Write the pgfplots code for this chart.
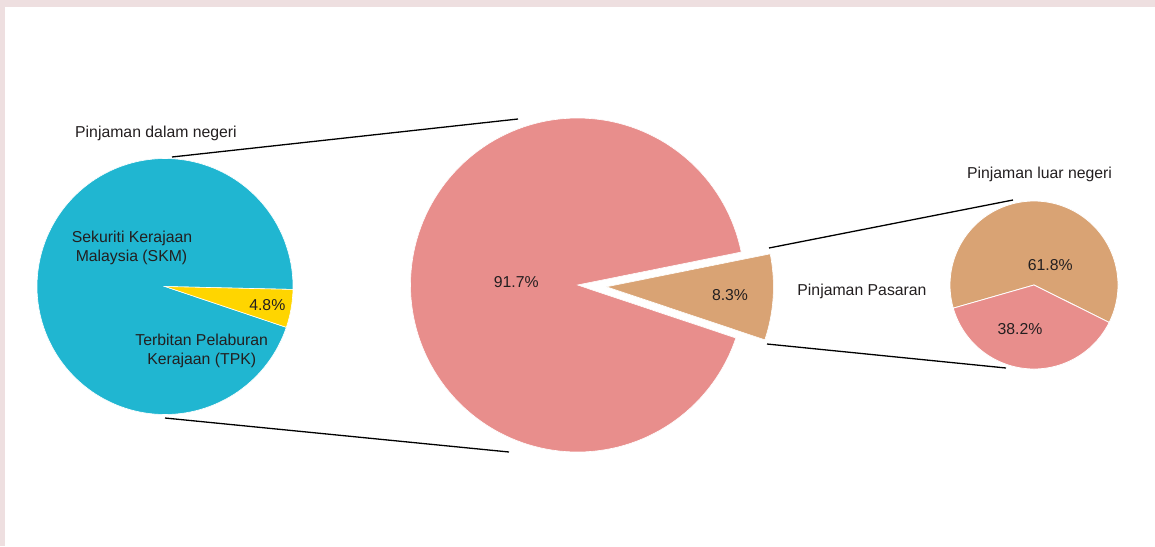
\documentclass[border=0pt]{standalone}
\usepackage{pgfplots}
\pgfplotsset{compat=1.18}
\usepackage{pgfplotstable}
\usepackage{fontspec}
\setmainfont{Liberation Sans}
\definecolor{cyanC}{HTML}{20B6D1}
\definecolor{yellowC}{HTML}{FFD500}
\definecolor{pinkC}{HTML}{E88E8C}
\definecolor{tanC}{HTML}{D9A374}
\definecolor{frameC}{HTML}{EEDFE0}
\definecolor{textC}{HTML}{231F20}

% shares of each pie, in per cent
\pgfplotstableread{
part value
SKM 95.2
TPK 4.8
}\dalamtable
\pgfplotstableread{
part value
Dalam 91.7
Luar 8.3
}\totaltable
\pgfplotstableread{
part value
Pasaran 38.2
Lain 61.8
}\luartable

\begin{document}
\begin{tikzpicture}
\pgfplotstablegetelem{1}{value}\of\dalamtable \let\vTPK\pgfplotsretval
\pgfplotstablegetelem{1}{value}\of\totaltable \let\vLuar\pgfplotsretval
\pgfplotstablegetelem{0}{value}\of\luartable \let\vPas\pgfplotsretval
% left pie
\pgfmathsetmacro{\aTPKs}{-18.6}
\pgfmathsetmacro{\aTPKe}{\aTPKs+3.6*\vTPK}
\pgfmathsetmacro{\aSKMe}{\aTPKs+360}
% middle pie
\pgfmathsetmacro{\aLuarS}{-18.5}
\pgfmathsetmacro{\aLuarE}{\aLuarS+3.6*\vLuar}
\pgfmathsetmacro{\aDalamE}{\aLuarS+360}
\pgfmathsetmacro{\aMid}{(\aLuarS+\aLuarE)/2}
\pgfmathsetmacro{\cxT}{577.5+29*cos(\aMid)}
\pgfmathsetmacro{\cyT}{285-29*sin(\aMid)}
% right pie
\pgfmathsetmacro{\aPasS}{196}
\pgfmathsetmacro{\aPasE}{\aPasS+3.6*\vPas}
\pgfmathsetmacro{\aLainE}{\aPasS+360}
\begin{axis}[
  width=1155bp, height=546bp, scale only axis,
  xmin=0, xmax=1155, ymin=0, ymax=546, y dir=reverse,
  hide axis, clip=false,
  every axis plot/.append style={variable=\t, samples=150},
]
% frame
\addplot[fill=frameC, draw=none] coordinates {(0,0) (1155,0) (1155,546) (0,546)} -- cycle;
\addplot[fill=white, draw=none] coordinates {(5,7.5) (1155,7.5) (1155,546) (5,546)} -- cycle;

% left pie
\addplot[fill=cyanC, draw=white, line width=0.6bp, domain=\aTPKe:\aSKMe]
  ({165+128*cos(\t)}, {286.5-128*sin(\t)}) -- (axis cs:165,286.5) -- cycle;
\addplot[fill=yellowC, draw=white, line width=0.6bp, domain=\aTPKs:\aTPKe]
  ({165+128*cos(\t)}, {286.5-128*sin(\t)}) -- (axis cs:165,286.5) -- cycle;

% middle pie
\addplot[fill=pinkC, draw=white, line width=0.6bp, domain=\aLuarE:\aDalamE]
  ({577.5+167*cos(\t)}, {285-167*sin(\t)}) -- (axis cs:577.5,285) -- cycle;
\addplot[fill=tanC, draw=white, line width=0.6bp, domain=\aLuarS:\aLuarE]
  ({\cxT+167*cos(\t)}, {\cyT-167*sin(\t)}) -- (axis cs:\cxT,\cyT) -- cycle;

% right pie
\addplot[fill=tanC, draw=white, line width=0.8bp, domain=\aPasE:\aLainE]
  ({1034+84*cos(\t)}, {285-84*sin(\t)}) -- (axis cs:1034,285) -- cycle;
\addplot[fill=pinkC, draw=white, line width=0.8bp, domain=\aPasS:\aPasE]
  ({1034+84*cos(\t)}, {285-84*sin(\t)}) -- (axis cs:1034,285) -- cycle;

% connector lines
\addplot[black, line width=1.3bp] coordinates {(172,157) (518,119)};
\addplot[black, line width=1.3bp] coordinates {(165,418) (509,452)};
\addplot[black, line width=1.3bp] coordinates {(769,248) (1013,200)};
\addplot[black, line width=1.3bp] coordinates {(767,344) (1006,368)};

% labels
\tikzset{lbl/.style={anchor=base, text=textC, inner sep=0pt,
  font=\fontsize{15.8bp}{19bp}\selectfont}}
\node[lbl] at (axis cs:156,137) {Pinjaman dalam negeri};
\node[lbl] at (axis cs:132,242.3) {Sekuriti Kerajaan};
\node[lbl] at (axis cs:131.5,261) {Malaysia (SKM)};
\node[lbl] at (axis cs:201.7,345.7) {Terbitan Pelaburan};
\node[lbl] at (axis cs:201.7,364.3) {Kerajaan (TPK)};
\node[lbl] at (axis cs:267.3,310.7) {4.8\%};
\node[lbl] at (axis cs:516.2,287.3) {91.7\%};
\node[lbl] at (axis cs:730,300) {8.3\%};
\node[lbl] at (axis cs:862,295.7) {Pinjaman Pasaran};
\node[lbl] at (axis cs:1039.5,178.3) {Pinjaman luar negeri};
\node[lbl] at (axis cs:1050.3,270) {61.8\%};
\node[lbl] at (axis cs:1020,334) {38.2\%};
\end{axis}
\end{tikzpicture}
\end{document}
